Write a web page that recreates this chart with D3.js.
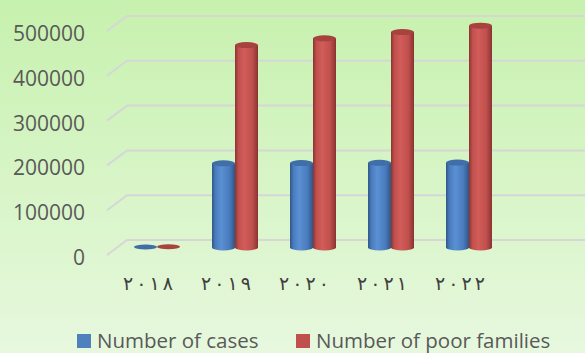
<!DOCTYPE html>
<html>
<head>
<meta charset="utf-8">
<script src="https://cdn.jsdelivr.net/npm/d3@7"></script>
<style>
  html, body { margin: 0; padding: 0; background: #fff; }
  svg { display: block; }
</style>
</head>
<body>
<svg id="chart" width="585" height="353"></svg>
<script>
// Chart data
const categories = ["٢٠١٨", "٢٠١٩", "٢٠٢٠", "٢٠٢١", "٢٠٢٢"];
const seriesNames = ["Number of cases", "Number of poor families"];
const casesValues = [1000, 188000, 188500, 189000, 189500];
const poorFamiliesValues = [1500, 452000, 467000, 481000, 495000];
const yTicks = [0, 100000, 200000, 300000, 400000, 500000];

const seriesValues = [casesValues, poorFamiliesValues];

const W = 585, H = 353;
const svg = d3.select("#chart");

// Background gradient
const defs = svg.append("defs");
const bg = defs.append("linearGradient").attr("id", "bg")
  .attr("x1", 0).attr("y1", 0).attr("x2", 0).attr("y2", 1);
bg.append("stop").attr("offset", "0%").attr("stop-color", "#c7f1ae");
bg.append("stop").attr("offset", "100%").attr("stop-color", "#e7f8de");
svg.append("rect").attr("width", W).attr("height", H).attr("fill", "url(#bg)");

// Cylinder shading gradients
const palettes = [
  { edge: "#2f5687", mid: "#4a7cbd", light: "#5a90d4", top: "#3f6ea8" },
  { edge: "#8a3331", mid: "#c0504d", light: "#d25c59", top: "#a8423f" }
];
palettes.forEach((p, i) => {
  const g = defs.append("linearGradient").attr("id", "cyl" + i)
    .attr("x1", 0).attr("y1", 0).attr("x2", 1).attr("y2", 0);
  g.append("stop").attr("offset", "0%").attr("stop-color", p.edge);
  g.append("stop").attr("offset", "15%").attr("stop-color", p.mid);
  g.append("stop").attr("offset", "40%").attr("stop-color", p.light);
  g.append("stop").attr("offset", "75%").attr("stop-color", p.mid);
  g.append("stop").attr("offset", "100%").attr("stop-color", p.edge);
});

// 3D projection: depth offset of the back wall
const depthX = 20, depthY = -15;
const frontLeft = 107;

// Scales on the front plane
const y = d3.scaleLinear().domain([0, 500000]).range([255, 31]);
const x = d3.scaleBand().domain(categories).range([108, 498]).padding(0);
const xs = d3.scaleBand().domain(seriesNames).range([16, 62]).padding(0);

// Gridlines: side wall diagonal + back wall horizontal
svg.append("g").selectAll("path").data(yTicks).join("path")
  .attr("d", t => {
    const yf = y(t);
    return `M${frontLeft},${yf} L${frontLeft + depthX},${yf + depthY} L${W},${yf + depthY}`;
  })
  .attr("fill", "none")
  .attr("stroke", "#d6d6d6")
  .attr("stroke-width", 2);

// Value axis labels
svg.append("g").selectAll("text").data(yTicks).join("text")
  .attr("x", 85)
  .attr("y", t => y(t) + 2)
  .attr("text-anchor", "end")
  .attr("dominant-baseline", "central")
  .attr("font-family", "'Open Sans', sans-serif")
  .attr("font-size", 21)
  .attr("fill", "#595959")
  .text(t => d3.format("d")(t));

// Cylinders, placed at mid depth
const mid = 0.5;
const bars = [];
categories.forEach((c, ci) => {
  seriesNames.forEach((s, si) => {
    bars.push({ c, si, v: seriesValues[si][ci] });
  });
});

const gBars = svg.append("g");
bars.forEach(b => {
  const w = xs.bandwidth();
  const x0 = x(b.c) + xs(seriesNames[b.si]) + depthX * mid;
  const yBase = y(0) + depthY * mid;
  const yTop = y(b.v) + depthY * mid;
  const rx = w / 2, ry = 3;
  const p = palettes[b.si];
  const g = gBars.append("g");
  if (yBase - yTop > 1) {
    g.append("path")
      .attr("d", `M${x0},${yTop} L${x0},${yBase} A${rx},${ry} 0 0 0 ${x0 + w},${yBase} L${x0 + w},${yTop} Z`)
      .attr("fill", `url(#cyl${b.si})`);
    g.append("ellipse")
      .attr("cx", x0 + rx).attr("cy", yTop)
      .attr("rx", rx).attr("ry", ry)
      .attr("fill", p.top);
  } else {
    g.append("ellipse")
      .attr("cx", x0 + rx).attr("cy", yTop)
      .attr("rx", rx).attr("ry", 2.5)
      .attr("fill", p.top);
  }
});

// Category labels on the front edge: digits spread out, kept in reading order
const catText = svg.append("g").selectAll("text").data(categories).join("text")
  .attr("x", c => x(c) + x.bandwidth() / 2 + 1)
  .attr("y", 283)
  .attr("text-anchor", "middle")
  .attr("dominant-baseline", "central")
  .attr("direction", "ltr")
  .attr("unicode-bidi", "bidi-override")
  .attr("font-family", "'DejaVu Sans', sans-serif")
  .attr("font-size", 19)
  .attr("fill", "#404040");
catText.selectAll("tspan").data(c => Array.from(c)).join("tspan")
  .attr("dx", (d, i) => i === 0 ? 0 : 3)
  .text(d => d);

// Legend
const legendItems = [
  { name: seriesNames[0], color: "#4f81bd", x: 77 },
  { name: seriesNames[1], color: "#c0504d", x: 296 }
];
const lg = svg.append("g").selectAll("g").data(legendItems).join("g")
  .attr("transform", d => `translate(${d.x},334)`);
lg.append("rect").attr("width", 14).attr("height", 14).attr("fill", d => d.color);
lg.append("text")
  .attr("x", 20).attr("y", 14)
  .attr("font-family", "'Open Sans', sans-serif")
  .attr("font-size", 20.5)
  .attr("fill", "#595959")
  .text(d => d.name);
</script>
</body>
</html>
